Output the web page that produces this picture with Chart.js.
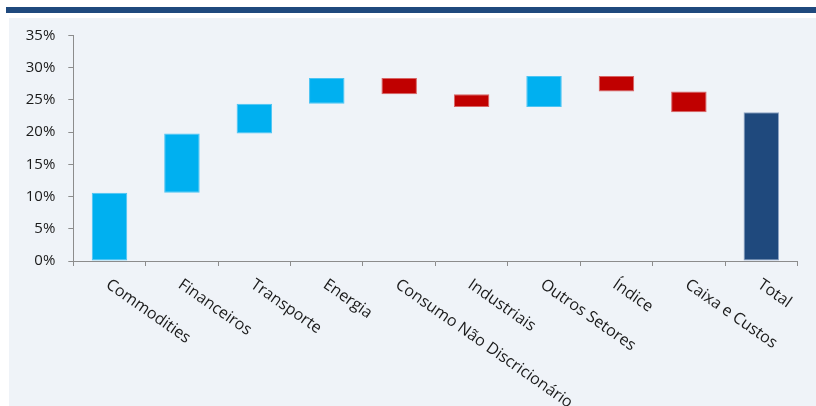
<!DOCTYPE html>
<html>
<head>
<meta charset="utf-8">
<script src="https://cdn.jsdelivr.net/npm/chart.js@4.4.1/dist/chart.umd.min.js"></script>
<style>
  html, body { margin: 0; padding: 0; background: #fff; }
  body { width: 816px; height: 406px; position: relative; overflow: hidden; }
  .band { position: absolute; left: 6px; right: 0; top: 7px; height: 6px; background: #1f497d; }
  .panel { position: absolute; left: 9px; right: 0; top: 18px; bottom: 0; background: #eff3f8; }
  canvas { position: absolute; left: 0; top: 0; }
</style>
</head>
<body>
<div class="band"></div>
<div class="panel"></div>
<canvas id="chart" width="816" height="406"></canvas>
<script>
const CATEGORIES = ["Commodities", "Financeiros", "Transporte", "Energia", "Consumo Não Discricionário",
                    "Industriais", "Outros Setores", "Índice", "Caixa e Custos", "Total"];
// bottom and top of each floating bar, in %
const BAR_LOW  = [0,    10.6, 19.8, 24.4, 25.9, 23.9, 23.9, 26.3, 23.1, 0];
const BAR_HIGH = [10.6, 19.8, 24.4, 28.4, 28.4, 25.9, 28.7, 28.7, 26.3, 23.1];
const STEP_TYPE = ["up", "up", "up", "up", "down", "down", "up", "down", "down", "total"];
const Y_MIN = 0, Y_MAX = 35, Y_STEP = 5;

const FILL = { up: "#00b0f0", down: "#c00000", total: "#1f497d" };
const EDGE = { up: "#4cc4f3", down: "#d86464", total: "#8ea5c5" };
const AXIS_GREY = "#8c8c8c";

// category labels run down to the right, which chart.js can't do on its own
const slantedLabels = {
  id: "slantedLabels",
  afterDraw(chart) {
    const ctx = chart.ctx;
    const xs = chart.scales.x;
    ctx.save();
    ctx.font = '16px "Open Sans"';
    ctx.fillStyle = "#1a1a1a";
    ctx.textAlign = "left";
    ctx.textBaseline = "middle";
    CATEGORIES.forEach((name, i) => {
      ctx.save();
      ctx.translate(xs.getPixelForTick(i) - 2, xs.top + 22);
      ctx.rotate(35 * Math.PI / 180);
      ctx.fillText(name, 0, 0);
      ctx.restore();
    });
    ctx.restore();
  }
};

new Chart(document.getElementById("chart"), {
  type: "bar",
  data: {
    labels: CATEGORIES,
    datasets: [{
      data: CATEGORIES.map((_, i) => [BAR_LOW[i], BAR_HIGH[i]]),
      backgroundColor: STEP_TYPE.map(t => FILL[t]),
      borderColor: STEP_TYPE.map(t => EDGE[t]),
      borderWidth: 1,
      borderSkipped: false,
      barPercentage: 0.49,
      categoryPercentage: 1
    }]
  },
  plugins: [slantedLabels],
  options: {
    responsive: false,
    animation: false,
    layout: { padding: { left: 0, right: 18.5, top: 35.5, bottom: 0 } },
    plugins: { legend: { display: false }, tooltip: { enabled: false } },
    scales: {
      x: {
        grid: { offset: true, drawOnChartArea: false, drawTicks: true, tickLength: 5, color: AXIS_GREY },
        border: { color: AXIS_GREY, width: 1 },
        ticks: { display: false },
        afterFit(s) { s.height = 145; }
      },
      y: {
        min: Y_MIN,
        max: Y_MAX,
        ticks: {
          stepSize: Y_STEP,
          padding: 13,
          color: "#1a1a1a",
          font: { family: '"Open Sans"', size: 15 },
          callback: v => v + "%"
        },
        grid: { drawOnChartArea: false, drawTicks: true, tickLength: 5, color: AXIS_GREY },
        border: { color: AXIS_GREY, width: 1 },
        afterFit(s) { s.width = 73.3; }
      }
    }
  }
});
</script>
</body>
</html>
